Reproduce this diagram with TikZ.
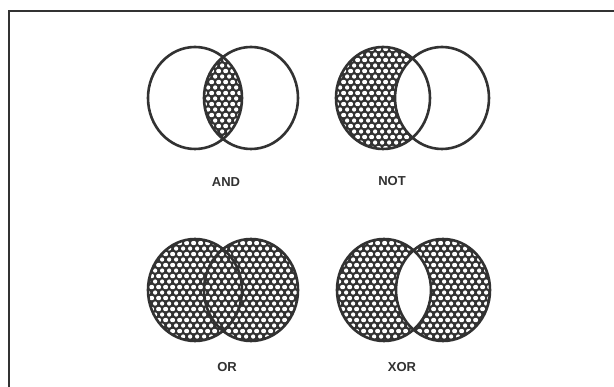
\documentclass[tikz,border=0pt]{standalone}
\usepackage{fontspec}
\setmainfont{Liberation Sans}
\usepackage{tikz}
\usetikzlibrary{patterns.meta}
\definecolor{inkgray}{RGB}{50,50,50}

% white dots on a dark ground, hexagonal layout
\tikzdeclarepattern{
  name=hexdots, type=uncolored,
  bounding box={(0pt,0pt) and (6.6pt,11.43pt)},
  tile size={(6.6pt,11.43pt)},
  code={
    \fill (3.3pt,5.715pt) circle (2.25pt);
    \fill (0pt,0pt) circle (2.25pt);
    \fill (6.6pt,0pt) circle (2.25pt);
    \fill (0pt,11.43pt) circle (2.25pt);
    \fill (6.6pt,11.43pt) circle (2.25pt);
  }
}

\begin{document}
\begin{tikzpicture}[x=1pt, y=-1pt,
  ring/.style={draw=inkgray, line width=2.6pt},
  shade/.style={fill=inkgray, postaction={pattern=hexdots, pattern color=white}},
  opname/.style={font=\fontsize{13}{13}\selectfont\bfseries, text=inkgray, inner sep=0pt},
]
  \useasboundingbox (0,0) rectangle (614,387);
  \fill[white] (0,0) rectangle (614,387);

  % frame (runs off the right and bottom edges)
  \draw[inkgray, line width=1.8pt] (9,400) -- (9,11) -- (620,11);

  % AND
  \begin{scope}
    \clip (195,98) ellipse [x radius=47, y radius=51];
    \path[shade] (251,98) ellipse [x radius=47, y radius=51];
  \end{scope}
  \draw[ring] (195,98) ellipse [x radius=47, y radius=51];
  \draw[ring] (251,98) ellipse [x radius=47, y radius=51];
  \node[opname] (andlbl) at (226,182) {AND};

  % NOT
  \begin{scope}
    \clip (383,98) ellipse [x radius=47, y radius=51];
    \path[shade, even odd rule] (383,98) ellipse [x radius=47, y radius=51]
                                (442,98) ellipse [x radius=47, y radius=51];
  \end{scope}
  \draw[ring] (383,98) ellipse [x radius=47, y radius=51];
  \draw[ring] (442,98) ellipse [x radius=47, y radius=51];
  \node[opname] (notlbl) at (392,181) {NOT};

  % OR
  \path[shade] (195,290) ellipse [x radius=47, y radius=51]
               (251,290) ellipse [x radius=47, y radius=51];
  \draw[ring] (195,290) ellipse [x radius=47, y radius=51];
  \draw[ring] (251,290) ellipse [x radius=47, y radius=51];
  \node[opname] (orlbl) at (227,367) {OR};

  % XOR
  \path[shade, even odd rule] (384,290) ellipse [x radius=47, y radius=51]
                              (443,290) ellipse [x radius=47, y radius=51];
  \draw[ring] (384,290) ellipse [x radius=47, y radius=51];
  \draw[ring] (443,290) ellipse [x radius=47, y radius=51];
  \node[opname] (xorlbl) at (402,367) {XOR};
\end{tikzpicture}
\end{document}
